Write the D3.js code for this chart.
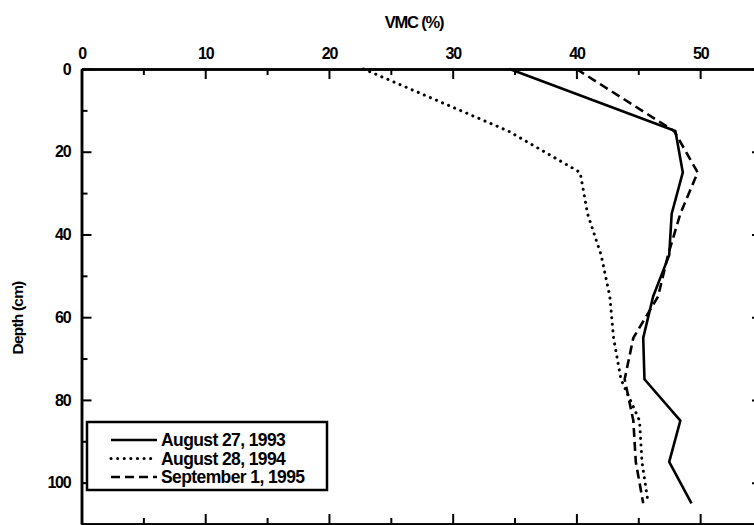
<!DOCTYPE html>
<html>
<head>
    <title>VMC profile</title>
    <style>
        body { margin: 0; padding: 0; background: #fff; }
        svg { display: block; }
        text { font-family: "Liberation Sans", Arial, sans-serif; font-weight: bold; fill: #000; }
    </style>
</head>
<body>
    <div id="container"></div>
    <script src="https://d3js.org/d3.v7.min.js"></script>
    <script>
        var width = 754, height = 525;

        // depth of each sample (cm)
        var depths = [0, 15, 25, 35, 45, 55, 65, 75, 85, 95, 105];
        // VMC (%) for each survey
        var aug1993 = [34.6, 48.0, 48.6, 47.7, 47.5, 46.2, 45.4, 45.5, 48.4, 47.5, 49.3];
        var aug1994 = [22.8, 34.5, 40.3, 40.9, 42.0, 42.7, 43.0, 43.6, 45.1, 45.3, 45.8];
        var sep1995 = [40.0, 47.9, 49.8, 48.4, 47.4, 46.6, 44.6, 43.9, 44.6, 44.8, 45.4];

        var seriesNames = ["August 27, 1993", "August 28, 1994", "September 1, 1995"];
        var xTicks = [0, 10, 20, 30, 40, 50];
        var yTicks = [0, 20, 40, 60, 80, 100];

        var x = d3.scaleLinear().domain([0, 55]).range([81.5, 762]);
        var y = d3.scaleLinear().domain([0, 110]).range([69, 524]);

        var svg = d3.select("#container").append("svg")
            .attr("width", width)
            .attr("height", height);

        // minor ticks at 5s / 10s
        var xMinor = d3.range(5, 56, 10);
        var yMinor = d3.range(10, 111, 20);

        function styleAxis(g) {
            g.select(".domain").attr("stroke", "#000").attr("stroke-width", 2.5);
            g.selectAll(".tick line").attr("stroke", "#000").attr("stroke-width", 2);
            g.selectAll(".tick text").style("font-size", "16px").style("letter-spacing", "-1.2px");
        }

        // top axis (labelled)
        svg.append("g")
            .attr("transform", "translate(0," + y(0) + ")")
            .call(d3.axisTop(x).tickValues(xTicks).tickSizeInner(-10).tickSizeOuter(0).tickPadding(10))
            .call(styleAxis);
        svg.append("g")
            .attr("transform", "translate(0," + y(0) + ")")
            .call(d3.axisTop(x).tickValues(xMinor).tickSizeInner(-6).tickSizeOuter(0).tickFormat(""))
            .call(styleAxis);

        // bottom axis
        svg.append("g")
            .attr("transform", "translate(0," + y(110) + ")")
            .call(d3.axisBottom(x).tickValues(xTicks).tickSizeInner(-10).tickSizeOuter(0).tickFormat(""))
            .call(styleAxis);
        svg.append("g")
            .attr("transform", "translate(0," + y(110) + ")")
            .call(d3.axisBottom(x).tickValues(xMinor).tickSizeInner(-6).tickSizeOuter(0).tickFormat(""))
            .call(styleAxis);

        // left axis (labelled)
        svg.append("g")
            .attr("transform", "translate(" + x(0) + ",0)")
            .call(d3.axisLeft(y).tickValues(yTicks).tickSizeInner(-10).tickSizeOuter(0).tickPadding(11))
            .call(styleAxis);
        svg.append("g")
            .attr("transform", "translate(" + x(0) + ",0)")
            .call(d3.axisLeft(y).tickValues(yMinor).tickSizeInner(-6).tickSizeOuter(0).tickFormat(""))
            .call(styleAxis);

        // right axis
        svg.append("g")
            .attr("transform", "translate(" + x(55) + ",0)")
            .call(d3.axisRight(y).tickValues(yTicks).tickSizeInner(-10).tickSizeOuter(0).tickFormat(""))
            .call(styleAxis);

        // axis titles
        svg.append("text")
            .attr("x", 414).attr("y", 28)
            .attr("text-anchor", "middle")
            .style("font-size", "16.5px").style("letter-spacing", "-1.2px")
            .text("VMC (%)");

        svg.append("text")
            .attr("transform", "translate(23,318) rotate(-90)")
            .attr("text-anchor", "middle")
            .style("font-size", "15.5px").style("letter-spacing", "-0.8px")
            .text("Depth (cm)");

        // profiles
        var series = [
            { name: seriesNames[0], values: aug1993, dash: null, cap: "butt" },
            { name: seriesNames[1], values: aug1994, dash: "0.1 6.5", cap: "round" },
            { name: seriesNames[2], values: sep1995, dash: "9 5", cap: "butt" }
        ];

        var line = d3.line()
            .x(function (d) { return x(d[0]); })
            .y(function (d) { return y(d[1]); });

        series.forEach(function (s) {
            var pts = depths.map(function (dep, i) { return [s.values[i], dep]; });
            svg.append("path")
                .datum(pts)
                .attr("d", line)
                .attr("fill", "none")
                .attr("stroke", "#000")
                .attr("stroke-width", s.cap === "round" ? 3 : 2.6)
                .attr("stroke-linecap", s.cap)
                .attr("stroke-linejoin", "round")
                .attr("stroke-dasharray", s.dash);
        });

        // legend
        var legend = svg.append("g");
        legend.append("rect")
            .attr("x", 87).attr("y", 422)
            .attr("width", 240).attr("height", 68)
            .attr("fill", "#fff")
            .attr("stroke", "#000")
            .attr("stroke-width", 2.5);

        series.forEach(function (s, i) {
            var ly = 440 + i * 18.5;
            legend.append("line")
                .attr("x1", 111).attr("x2", 157)
                .attr("y1", ly).attr("y2", ly)
                .attr("stroke", "#000")
                .attr("stroke-width", s.cap === "round" ? 3 : 2.6)
                .attr("stroke-linecap", s.cap)
                .attr("stroke-dasharray", s.dash);
            legend.append("text")
                .attr("x", 161).attr("y", ly + 6)
                .style("font-size", "17.5px").style("letter-spacing", "-0.6px")
                .text(s.name);
        });
    </script>
</body>
</html>
